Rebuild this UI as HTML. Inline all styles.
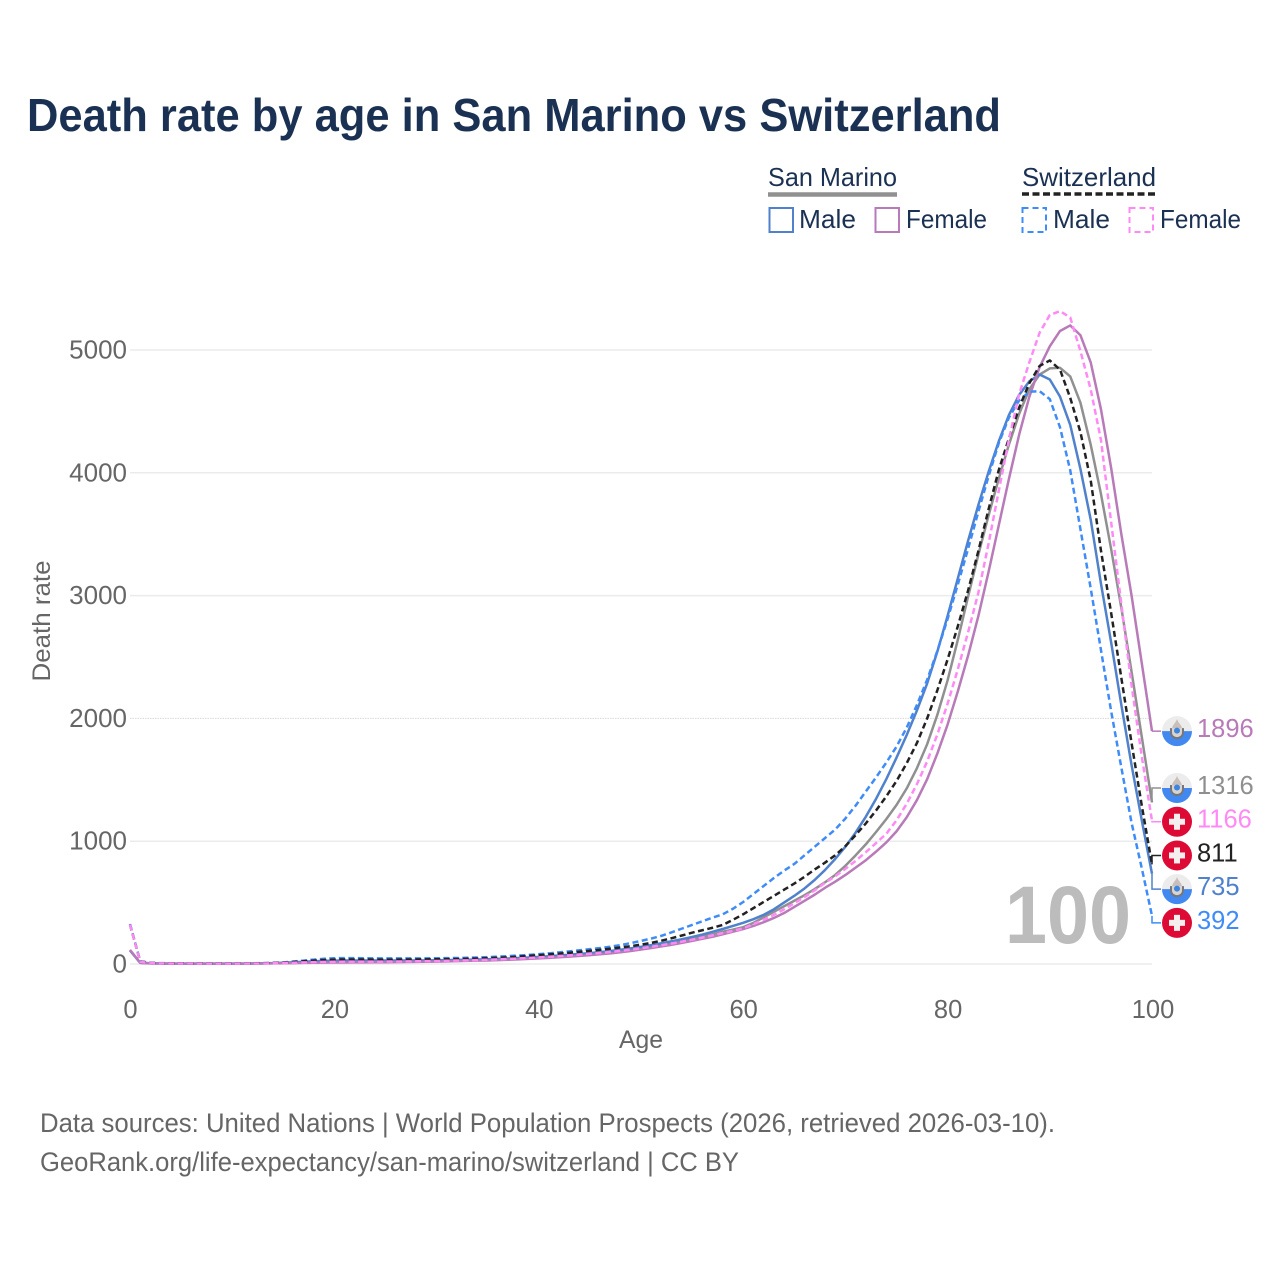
<!DOCTYPE html>
<html lang="en">
<head>
<meta charset="utf-8">
<title>Death rate by age in San Marino vs Switzerland</title>
<style>
html,body{margin:0;padding:0;background:#fff;}
svg{display:block;font-family:"Liberation Sans",sans-serif;}
</style>
</head>
<body>
<svg id="chart" xmlns="http://www.w3.org/2000/svg" width="1280" height="1280" viewBox="0 0 1280 1280">
  <rect width="1280" height="1280" fill="#ffffff"/>
  <text x="27" y="131" font-size="46" font-weight="700" fill="#1b3153" textLength="974" lengthAdjust="spacingAndGlyphs">Death rate by age in San Marino vs Switzerland</text>

  <g fill="#1b3153" font-size="26">
    <text x="768" y="186" textLength="129" lengthAdjust="spacingAndGlyphs">San Marino</text>
    <line x1="768" x2="897" y1="194.500" y2="194.500" stroke="#909090" stroke-width="4.500"/>
    <text x="1022" y="186" textLength="134" lengthAdjust="spacingAndGlyphs">Switzerland</text>
    <line x1="1022" x2="1156" y1="194" y2="194" stroke="#222222" stroke-width="3.500" stroke-dasharray="7 3.500"/>
    <rect x="769.500" y="208" width="23.500" height="24" fill="none" stroke="#5081cc" stroke-width="2"/>
    <text x="799" y="228" textLength="57" lengthAdjust="spacingAndGlyphs">Male</text>
    <rect x="875.500" y="208" width="23.500" height="24" fill="none" stroke="#b87ab8" stroke-width="2"/>
    <text x="906" y="228" textLength="81" lengthAdjust="spacingAndGlyphs">Female</text>
    <rect x="1022.500" y="208" width="23.500" height="24" fill="none" stroke="#3f8cf8" stroke-width="2" stroke-dasharray="6 4"/>
    <text x="1053" y="228" textLength="57" lengthAdjust="spacingAndGlyphs">Male</text>
    <rect x="1129.500" y="208" width="23.500" height="24" fill="none" stroke="#ff8af5" stroke-width="2" stroke-dasharray="6 4"/>
    <text x="1160" y="228" textLength="81" lengthAdjust="spacingAndGlyphs">Female</text>
  </g>

  <g id="grid"></g>
  <g id="y-ticks"></g>
  <g id="x-ticks"></g>

  <text transform="translate(50 621) rotate(-90)" text-anchor="middle" font-size="25" fill="#666666" textLength="121" lengthAdjust="spacingAndGlyphs">Death rate</text>
  <text x="641" y="1048" text-anchor="middle" font-size="25" fill="#666666" textLength="44" lengthAdjust="spacingAndGlyphs">Age</text>

  <text x="1005" y="943" font-size="82" font-weight="700" fill="#bcbcbc" textLength="126" lengthAdjust="spacingAndGlyphs">100</text>

  <g id="series"></g>
  <g id="end-labels"></g>

  <text x="40" y="1132" font-size="27" fill="#666666" textLength="1015" lengthAdjust="spacingAndGlyphs">Data sources: United Nations | World Population Prospects (2026, retrieved 2026-03-10).</text>
  <text x="40" y="1171" font-size="27" fill="#666666" textLength="699" lengthAdjust="spacingAndGlyphs">GeoRank.org/life-expectancy/san-marino/switzerland | CC BY</text>
</svg>

<script>
// Index of each value is the age in years (0 to 100).
const ageTicks = [0, 20, 40, 60, 80, 100];
const rateTicks = [0, 1000, 2000, 3000, 4000, 5000];

const sanMarinoMale = [110,10,6,4,3,3,3,3,3,3,3,3,4,5,7,10,14,18,22,25,27,28,28,28,28,28,28,29,29,30,31,32,34,35,37,39,42,45,49,53,58,63,69,75,82,89,97,106,116,127,140,154,169,185,202,220,240,262,285,310,335,365,400,445,500,555,615,685,765,855,955,1070,1200,1345,1505,1680,1865,2065,2285,2545,2835,3140,3445,3735,4005,4255,4470,4635,4745,4800,4760,4620,4390,4030,3620,3100,2620,2110,1620,1170,735];
const sanMarinoFemale = [115,9,5,4,3,3,3,3,3,3,3,3,3,4,5,6,7,9,10,11,12,12,13,13,14,14,15,16,17,18,19,21,23,25,27,29,32,35,38,42,46,50,55,60,66,72,79,87,96,106,118,130,143,157,172,188,205,222,242,263,285,310,340,375,415,465,515,565,620,670,725,785,845,915,990,1080,1195,1335,1505,1715,1950,2220,2510,2830,3190,3570,3950,4310,4620,4860,5030,5155,5200,5120,4900,4520,4040,3500,3000,2450,1896];
const sanMarinoTotal = [112,9,5,4,3,3,3,3,3,3,3,3,4,5,6,8,11,14,16,18,20,20,21,21,21,21,22,22,23,24,25,27,28,30,32,34,37,40,44,48,52,57,62,68,74,81,88,97,106,117,129,142,156,171,187,204,222,242,263,280,300,335,380,425,470,515,560,610,665,725,800,885,975,1075,1180,1295,1430,1595,1790,2030,2310,2640,2990,3330,3650,3950,4230,4480,4680,4800,4850,4855,4785,4570,4230,3830,3380,2900,2380,1850,1316];
const switzerlandMale = [325,22,10,7,6,5,5,5,5,5,5,5,6,7,9,13,20,28,36,43,47,48,48,47,46,46,46,46,46,46,47,48,49,51,53,56,60,64,69,74,80,87,95,103,112,121,130,141,154,170,188,207,230,258,288,318,348,378,405,450,505,570,635,700,760,815,885,955,1025,1095,1185,1290,1405,1520,1640,1770,1925,2110,2315,2550,2810,3090,3380,3680,3970,4240,4450,4590,4660,4665,4600,4370,4020,3540,3060,2560,2060,1600,1150,780,392];
const switzerlandTotal = [320,20,9,6,5,5,4,4,4,4,4,4,5,6,8,11,16,22,28,33,36,37,37,37,36,36,36,37,37,38,39,40,41,43,45,48,51,55,60,66,72,78,85,92,100,108,116,125,135,145,158,172,190,210,232,255,275,295,318,360,405,455,505,555,605,655,710,770,825,885,960,1050,1145,1250,1365,1490,1635,1800,2000,2230,2480,2750,3040,3360,3700,4020,4280,4530,4730,4870,4915,4840,4610,4330,3940,3370,2860,2330,1800,1290,811];
const switzerlandFemale = [320,18,8,5,4,4,4,3,3,3,3,3,4,4,6,8,10,13,15,17,18,19,19,19,19,20,20,21,22,23,24,26,28,30,32,35,38,41,45,49,54,59,64,70,76,83,90,98,107,117,128,140,153,167,182,198,215,233,252,270,290,325,360,400,445,495,545,600,660,715,775,840,910,985,1060,1170,1305,1465,1650,1870,2120,2400,2700,3020,3420,3850,4270,4640,4900,5140,5285,5317,5265,4990,4680,4270,3600,2930,2270,1690,1166];

const svgNS = 'http://www.w3.org/2000/svg';
const xScale = function (age) { return 130 + age * 10.22; };
const yScale = function (rate) { return 964 - rate * 0.1228; };

function svgEl(tag, parent) {
  const el = document.createElementNS(svgNS, tag);
  parent.appendChild(el);
  return el;
}

// Gridlines and tick labels
const gridGroup = document.getElementById('grid');
const yTickGroup = document.getElementById('y-ticks');
const xTickGroup = document.getElementById('x-ticks');

rateTicks.forEach(function (tick) {
  const line = svgEl('line', gridGroup);
  
  
  line.setAttribute('x1', xScale(0));
  line.setAttribute('x2', xScale(100));
  line.setAttribute('y1', yScale(tick));
  line.setAttribute('y2', yScale(tick));
  line.setAttribute('stroke', '#ebebeb');
  line.setAttribute('stroke-width', tick === 2000 ? 1 : 1.5);
  if (tick === 2000) {
    line.setAttribute('stroke-dasharray', '1.500 1');
    line.setAttribute('stroke', '#d9d9d9');
  }
  const label = svgEl('text', yTickGroup);
  
  
  label.setAttribute('x', 127);
  label.setAttribute('y', yScale(tick) + 8.5);
  label.setAttribute('text-anchor', 'end');
  label.setAttribute('font-size', '26');
  label.setAttribute('fill', '#666666');
  label.textContent = tick;
});

ageTicks.forEach(function (tick) {
  const label = svgEl('text', xTickGroup);
  
  
  label.setAttribute('x', xScale(tick) + (tick === 100 ? 1 : 0.5));
  label.setAttribute('y', 1018);
  label.setAttribute('text-anchor', 'middle');
  label.setAttribute('font-size', '25.500');
  label.setAttribute('fill', '#666666');
  label.textContent = tick;
});

// Series, in drawing order
const seriesList = [
  { key: 'san-marino-total', values: sanMarinoTotal, color: '#909090', dash: '', country: 'sm', text: '#8f8f8f' },
  { key: 'san-marino-male', values: sanMarinoMale, color: '#5081cc', dash: '', country: 'sm', text: '#5081cc' },
  { key: 'san-marino-female', values: sanMarinoFemale, color: '#b87ab8', dash: '', country: 'sm', text: '#b87ab8' },
  { key: 'switzerland-male', values: switzerlandMale, color: '#3f8cf8', dash: '6 3.500', country: 'ch', text: '#3f8cf8' },
  { key: 'switzerland-total', values: switzerlandTotal, color: '#222222', dash: '6 3.500', country: 'ch', text: '#222222' },
  { key: 'switzerland-female', values: switzerlandFemale, color: '#ff8af5', dash: '6 3.500', country: 'ch', text: '#ff8af5' }
];

const seriesGroup = document.getElementById('series');
seriesList.forEach(function (s) {
  const path = svgEl('path', seriesGroup);
  
  
  const d = s.values.map(function (v, age) {
    return (age === 0 ? 'M' : 'L') + xScale(age).toFixed(2) + ' ' + yScale(v).toFixed(2);
  }).join('');
  path.setAttribute('d', d);
  path.setAttribute('fill', 'none');
  path.setAttribute('stroke', s.color);
  path.setAttribute('stroke-width', '2.500');
  path.setAttribute('stroke-linejoin', 'round');
  if (s.dash) {
    path.setAttribute('stroke-dasharray', s.dash);
  }
});

// End labels: spread overlapping labels around their cluster centre
const labelGap = 33.7;
const ordered = seriesList.map(function (s) {
  return { s: s, end: s.values[s.values.length - 1], base: yScale(s.values[s.values.length - 1]) };
}).sort(function (a, b) { return a.base - b.base; });

let clusters = ordered.map(function (o) { return { items: [o], centre: o.base }; });
let merged = true;
while (merged) {
  merged = false;
  for (let i = 0; i < clusters.length - 1; i++) {
    const a = clusters[i];
    const b = clusters[i + 1];
    const aBottom = a.centre + (a.items.length - 1) * labelGap / 2;
    const bTop = b.centre - (b.items.length - 1) * labelGap / 2;
    if (bTop - aBottom < labelGap) {
      const items = a.items.concat(b.items);
      const sum = items.reduce(function (t, o) { return t + o.base; }, 0);
      clusters.splice(i, 2, { items: items, centre: sum / items.length });
      merged = true;
      break;
    }
  }
}
clusters.forEach(function (c) {
  c.items.forEach(function (o, i) {
    o.labelY = c.centre + (i - (c.items.length - 1) / 2) * labelGap;
  });
});

const labelGroup = document.getElementById('end-labels');

function drawSanMarinoFlag(parent, cy, name) {
  const g = svgEl('g', parent);
  
  
  const top = svgEl('circle', g);
  top.setAttribute('cx', 1177);
  top.setAttribute('cy', cy);
  top.setAttribute('r', 15);
  top.setAttribute('fill', '#ececec');
  const bottom = svgEl('path', g);
  bottom.setAttribute('d', 'M1162 ' + cy + 'a15 15 0 0 0 30 0z');
  bottom.setAttribute('fill', '#4189f0');
  const tower = svgEl('path', g);
  tower.setAttribute('d', 'M1172 ' + (cy - 2) + 'c0 -4 3 -5 5 -10c2 5 5 6 5 10v4h-10z');
  tower.setAttribute('fill', '#c9bfba');
  const ring = svgEl('path', g);
  ring.setAttribute('d', 'M1171 ' + (cy - 3) + 'v4c0 4 3 6 6 6c3 0 6 -2 6 -6v-4');
  ring.setAttribute('fill', '#d8d4d0');
  ring.setAttribute('stroke', '#77767a');
  ring.setAttribute('stroke-width', '2');
  const inner = svgEl('circle', g);
  inner.setAttribute('cx', 1177);
  inner.setAttribute('cy', cy - 0.5);
  inner.setAttribute('r', 3);
  inner.setAttribute('fill', '#3d85e0');
}

function drawSwissFlag(parent, cy, name) {
  const g = svgEl('g', parent);
  
  
  const disc = svgEl('circle', g);
  disc.setAttribute('cx', 1177);
  disc.setAttribute('cy', cy);
  disc.setAttribute('r', 15);
  disc.setAttribute('fill', '#dc0a35');
  const bar1 = svgEl('rect', g);
  bar1.setAttribute('x', 1169);
  bar1.setAttribute('y', cy - 3);
  bar1.setAttribute('width', 16);
  bar1.setAttribute('height', 6);
  bar1.setAttribute('fill', '#f4eeee');
  const bar2 = svgEl('rect', g);
  bar2.setAttribute('x', 1174);
  bar2.setAttribute('y', cy - 8);
  bar2.setAttribute('width', 6);
  bar2.setAttribute('height', 16);
  bar2.setAttribute('fill', '#f4eeee');
}

ordered.forEach(function (o) {
  const leader = svgEl('path', labelGroup);
  
  
  leader.setAttribute('d', 'M' + xScale(100) + ' ' + o.base.toFixed(2) + 'V' + o.labelY.toFixed(2) + 'H1161');
  leader.setAttribute('fill', 'none');
  leader.setAttribute('stroke', o.s.color);
  leader.setAttribute('stroke-width', '1.500');

  if (o.s.country === 'sm') {
    drawSanMarinoFlag(labelGroup, o.labelY, 'flag-' + o.s.key);
  } else {
    drawSwissFlag(labelGroup, o.labelY, 'flag-' + o.s.key);
  }

  const value = svgEl('text', labelGroup);
  
  
  value.setAttribute('x', 1197);
  value.setAttribute('y', o.labelY + 6);
  value.setAttribute('font-size', '25.500');
  value.setAttribute('fill', o.s.text);
  value.textContent = o.end;
});
</script>
</body>
</html>
